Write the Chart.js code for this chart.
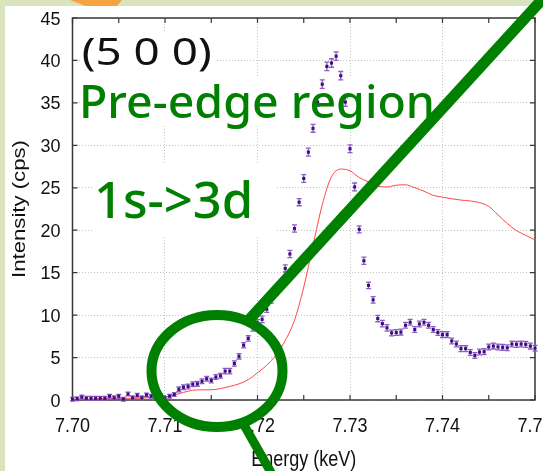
<!DOCTYPE html>
<html>
<head>
<meta charset="utf-8">
<script src="https://cdn.jsdelivr.net/npm/chart.js@4"></script>
<style>
  html, body { margin: 0; padding: 0; overflow: hidden; width: 543px; height: 471px; background: #d9e4be; }
  #wrap { position: absolute; left: 0; top: 0; width: 560px; height: 471px; }
</style>
</head>
<body>
<div id="wrap"><canvas id="c" width="560" height="471"></canvas></div>
<script>
// Measured spectrum: energy (keV), intensity (cps), error bar half-length (cps)
const energy = [
  7.7000, 7.7005, 7.7010, 7.7015, 7.7020, 7.7025, 7.7030, 7.7035, 7.7040, 7.7045,
  7.7050, 7.7055, 7.7060, 7.7065, 7.7070, 7.7075, 7.7080, 7.7085, 7.7090, 7.7095,
  7.7100, 7.7105, 7.7110, 7.7115, 7.7120, 7.7125, 7.7130, 7.7135, 7.7140, 7.7145,
  7.7150, 7.7155, 7.7160, 7.7165, 7.7170, 7.7175, 7.7180, 7.7185, 7.7190, 7.7195,
  7.7200, 7.7205, 7.7210, 7.7215, 7.7220, 7.7225, 7.7230, 7.7235, 7.7240, 7.7245,
  7.7250, 7.7255, 7.7260, 7.7265, 7.7270, 7.7275, 7.7280, 7.7285, 7.7290, 7.7295,
  7.7300, 7.7305, 7.7310, 7.7315, 7.7320, 7.7325, 7.7330, 7.7335, 7.7340, 7.7345,
  7.7350, 7.7355, 7.7360, 7.7365, 7.7370, 7.7375, 7.7380, 7.7385, 7.7390, 7.7395,
  7.7400, 7.7405, 7.7410, 7.7415, 7.7420, 7.7425, 7.7430, 7.7435, 7.7440, 7.7445,
  7.7450, 7.7455, 7.7460, 7.7465, 7.7470, 7.7475, 7.7480, 7.7485, 7.7490, 7.7495,
  7.7500
];
const intensity = [
  0.10, 0.15, 0.35, 0.20, 0.20, 0.20, 0.20, 0.20, 0.45, 0.25,
  0.45, 0.10, 0.70, 0.25, 0.55, 0.25, 0.60, 0.45, 0.40, 0.50,
  0.20, 0.45, 0.65, 1.25, 1.50, 1.60, 1.85, 1.90, 2.20, 2.50,
  2.30, 2.70, 2.85, 3.40, 3.40, 4.30, 5.15, 6.45, 7.25, 8.50,
  9.10, 9.50, 10.7, 11.8, 12.75, 13.5, 15.5, 17.2, 20.2, 23.3,
  26.1, 29.2, 32.0, 35.1, 37.2, 39.3, 39.7, 40.5, 38.2, 35.1,
  29.6, 25.1, 20.1, 16.4, 13.5, 11.8, 9.60, 9.00, 8.50, 7.90,
  7.95, 8.00, 8.80, 9.15, 8.30, 8.95, 9.15, 8.80, 8.30, 7.95,
  7.70, 7.70, 6.95, 6.60, 6.05, 6.05, 5.60, 5.25, 5.65, 5.70,
  6.25, 6.35, 6.25, 6.20, 6.15, 6.60, 6.55, 6.60, 6.55, 6.35,
  6.10
];
const errBar = [
  0.22, 0.22, 0.22, 0.22, 0.22, 0.22, 0.22, 0.22, 0.22, 0.22,
  0.22, 0.22, 0.22, 0.22, 0.22, 0.22, 0.22, 0.22, 0.22, 0.22,
  0.22, 0.22, 0.22, 0.28, 0.28, 0.28, 0.28, 0.28, 0.28, 0.28,
  0.28, 0.28, 0.28, 0.32, 0.32, 0.32, 0.32, 0.32, 0.32, 0.38,
  0.38, 0.38, 0.38, 0.38, 0.38, 0.38, 0.42, 0.42, 0.42, 0.42,
  0.46, 0.46, 0.46, 0.50, 0.50, 0.50, 0.50, 0.50, 0.50, 0.50,
  0.46, 0.46, 0.42, 0.42, 0.38, 0.38, 0.38, 0.38, 0.38, 0.34,
  0.34, 0.34, 0.34, 0.34, 0.34, 0.34, 0.34, 0.34, 0.34, 0.34,
  0.34, 0.34, 0.34, 0.34, 0.34, 0.34, 0.34, 0.34, 0.34, 0.34,
  0.34, 0.34, 0.34, 0.34, 0.34, 0.34, 0.34, 0.34, 0.34, 0.34,
  0.34
];

// Calculated spectrum (red curve)
const calcEnergy = [
  7.700, 7.701, 7.702, 7.703, 7.704, 7.705, 7.706, 7.707, 7.708, 7.709,
  7.710, 7.711, 7.712, 7.713, 7.714, 7.715, 7.716, 7.717, 7.718, 7.719,
  7.720, 7.721, 7.722, 7.723, 7.724, 7.725, 7.726, 7.727, 7.728, 7.729,
  7.730, 7.731, 7.732, 7.733, 7.734, 7.735, 7.736, 7.737, 7.738, 7.739,
  7.740, 7.741, 7.742, 7.743, 7.744, 7.745, 7.746, 7.747, 7.748, 7.749,
  7.750
];
const calcIntensity = [
  0.05, 0.10, 0.10, 0.15, 0.15, 0.15, 0.20, 0.20, 0.25, 0.30,
  0.35, 0.60, 0.90, 1.15, 1.20, 1.20, 1.35, 1.60, 1.90, 2.40,
  3.20, 4.10, 5.30, 7.00, 9.40, 13.3, 18.2, 23.0, 26.3, 27.2,
  27.0, 26.2, 25.7, 25.2, 25.1, 25.3, 25.35, 25.0, 24.6, 24.1,
  23.9, 23.7, 23.55, 23.45, 23.25, 22.8, 21.8, 20.8, 19.95, 19.4,
  18.85
];

// Axis settings
const xMin = 7.70, xMax = 7.75, xLabelStep = 0.01, xTickStep = 0.005;
const yMin = 0, yMax = 45, yStep = 5;
const xTitle = 'Energy (keV)';
const yTitle = 'Intensity (cps)';

// Annotation texts
const hklText = '(5 0 0)';
const regionText = 'Pre-edge region';
const transitionText = '1s->3d';

const GREEN = '#008000';
const SANS = '"Liberation Sans", Arial, sans-serif';
const NOTO = '"Noto Sans", "Open Sans", sans-serif';

// Draw text whose ink spans [left,right] horizontally with a given cap height
function fitText(ctx, txt, left, right, baseline, capH, family, weight, color) {
  const size = capH / 0.714;
  ctx.save();
  ctx.font = `${weight} ${size}px ${family}`;
  ctx.textAlign = 'left';
  ctx.textBaseline = 'alphabetic';
  const m = ctx.measureText(txt);
  const inkW = m.actualBoundingBoxLeft + m.actualBoundingBoxRight;
  const sx = (right - left) / inkW;
  ctx.translate(left, baseline);
  ctx.scale(sx, 1);
  ctx.fillStyle = color;
  ctx.fillText(txt, m.actualBoundingBoxLeft, 0);
  ctx.restore();
}

const slidePlugin = {
  id: 'slide',
  beforeDraw(chart) {
    const ctx = chart.ctx;
    ctx.save();
    ctx.fillStyle = '#d9e4be';
    ctx.fillRect(0, 0, chart.width, chart.height);
    ctx.fillStyle = '#f4a340';
    ctx.beginPath();
    ctx.moveTo(70, 0); ctx.lineTo(122, 0); ctx.lineTo(116, 7); ctx.lineTo(88, 7);
    ctx.closePath(); ctx.fill();
    ctx.fillStyle = '#ffffff';
    ctx.fillRect(5, 6, chart.width - 5, chart.height - 6);
    ctx.restore();
  },
  beforeDatasetsDraw(chart) {
    const ctx = chart.ctx;
    const { left, right, top, bottom } = chart.chartArea;
    const xs = chart.scales.x, ys = chart.scales.y;
    ctx.save();
    // white panels behind annotation text
    ctx.fillStyle = '#ffffff';
    ctx.fillRect(80, 33, 135, 44);
    ctx.fillRect(80, 77, 357, 49);
    ctx.fillRect(92, 163, 185, 72);
    // plot frame
    ctx.strokeStyle = '#383838';
    ctx.lineWidth = 1.5;
    ctx.strokeRect(left, top, right - left, bottom - top);
    // inward tick marks
    ctx.lineWidth = 1.2;
    ctx.beginPath();
    const nx = Math.round((xMax - xMin) / xTickStep);
    for (let k = 0; k <= nx; k++) {
      const px = xs.getPixelForValue(xMin + k * xTickStep);
      ctx.moveTo(px, bottom); ctx.lineTo(px, bottom - 5);
      ctx.moveTo(px, top); ctx.lineTo(px, top + 5);
    }
    ys.ticks.forEach(t => {
      const py = ys.getPixelForValue(t.value);
      ctx.moveTo(left, py); ctx.lineTo(left + 5, py);
      ctx.moveTo(right, py); ctx.lineTo(right - 5, py);
    });
    ctx.stroke();
    ctx.restore();
  },
  beforeDatasetDraw(chart, args) {
    if (args.index !== 0) return;
    const ctx = chart.ctx;
    const xs = chart.scales.x, ys = chart.scales.y;
    ctx.save();
    ctx.strokeStyle = '#8a5cc4';
    ctx.lineWidth = 1.3;
    ctx.beginPath();
    energy.forEach((e, i) => {
      const px = xs.getPixelForValue(e);
      const y1 = ys.getPixelForValue(intensity[i] - errBar[i]);
      const y2 = ys.getPixelForValue(intensity[i] + errBar[i]);
      ctx.moveTo(px, y1); ctx.lineTo(px, y2);
      ctx.moveTo(px - 2.5, y1); ctx.lineTo(px + 2.5, y1);
      ctx.moveTo(px - 2.5, y2); ctx.lineTo(px + 2.5, y2);
    });
    ctx.stroke();
    ctx.restore();
  },
  afterDatasetsDraw(chart) {
    const ctx = chart.ctx;
    fitText(ctx, hklText, 83, 210, 65, 27, NOTO, '400', '#111111');
    fitText(ctx, regionText, 83, 432, 118, 33, NOTO, '500', GREEN);
    fitText(ctx, transitionText, 98, 250, 218, 36, NOTO, '500', GREEN);
  },
  afterDraw(chart) {
    const ctx = chart.ctx;
    const { left, right, top, bottom } = chart.chartArea;
    const xs = chart.scales.x, ys = chart.scales.y;
    ctx.save();
    ctx.fillStyle = '#111111';
    // y tick labels
    ctx.font = `18px ${SANS}`;
    ctx.textAlign = 'right';
    ctx.textBaseline = 'alphabetic';
    ys.ticks.forEach(t => {
      const py = ys.getPixelForValue(t.value);
      ctx.fillText(String(t.value), left - 12, py + 6.6);
    });
    // x tick labels
    ctx.textAlign = 'center';
    xs.ticks.forEach(t => {
      const px = xs.getPixelForValue(t.value);
      ctx.save();
      ctx.translate(px, 431.6);
      ctx.scale(1, 1.15);
      ctx.fillText(t.value.toFixed(2), 0, 0);
      ctx.restore();
    });
    // x title
    ctx.save();
    ctx.translate((left + right) / 2, 465.6);
    ctx.scale(1, 1.2);
    ctx.fillText(xTitle, 0, 0);
    ctx.restore();
    // y title
    ctx.save();
    ctx.font = `18px ${SANS}`;
    const w = ctx.measureText(yTitle).width;
    ctx.translate(25, (top + bottom) / 2);
    ctx.rotate(-Math.PI / 2);
    ctx.scale(138 / w, 1);
    ctx.fillText(yTitle, 0, 0);
    ctx.restore();

    // callout: ring and pointer lines
    ctx.strokeStyle = GREEN;
    ctx.lineWidth = 10;
    ctx.beginPath();
    ctx.ellipse(217, 371, 65.5, 56, 0, 0, Math.PI * 2);
    ctx.stroke();
    ctx.lineWidth = 11;
    ctx.beginPath();
    ctx.moveTo(247, 322); ctx.lineTo(549, -8);
    ctx.stroke();
    ctx.lineWidth = 9;
    ctx.beginPath();
    ctx.moveTo(244, 425); ctx.lineTo(273, 476);
    ctx.stroke();
    ctx.restore();
  }
};

const gridStyle = { color: '#c4c4c4', lineWidth: 1, drawTicks: false };
const borderStyle = { display: false, dash: [1, 2] };

new Chart(document.getElementById('c'), {
  type: 'scatter',
  data: {
    datasets: [
      {
        label: 'measured',
        data: energy.map((e, i) => ({ x: e, y: intensity[i] })),
        pointStyle: 'rect',
        pointRadius: 2.2,
        pointHoverRadius: 2.2,
        backgroundColor: '#3f0c80',
        borderColor: '#3f0c80',
        borderWidth: 0,
        showLine: false,
        clip: false,
        order: 0
      },
      {
        label: 'calculated',
        type: 'line',
        data: calcEnergy.map((e, i) => ({ x: e, y: calcIntensity[i] })),
        borderColor: '#ff4646',
        borderWidth: 1,
        pointRadius: 0,
        fill: false,
        cubicInterpolationMode: 'monotone',
        order: 1
      }
    ]
  },
  options: {
    responsive: false,
    animation: false,
    devicePixelRatio: 1,
    layout: { padding: { top: 18, right: 25, left: 0, bottom: 0 } },
    plugins: { legend: { display: false }, tooltip: { enabled: false } },
    events: [],
    scales: {
      x: {
        type: 'linear', min: xMin, max: xMax,
        ticks: { display: false, stepSize: xLabelStep },
        grid: gridStyle, border: borderStyle,
        afterFit(s) { s.height = 71; }
      },
      y: {
        type: 'linear', min: yMin, max: yMax,
        ticks: { display: false, stepSize: yStep },
        grid: gridStyle, border: borderStyle,
        afterFit(s) { s.width = 72.5; }
      }
    }
  },
  plugins: [slidePlugin]
});
</script>
</body>
</html>
